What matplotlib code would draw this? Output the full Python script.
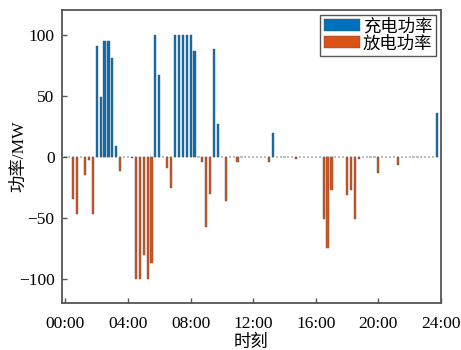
import numpy as np
import matplotlib.pyplot as plt

plt.rcParams['font.family'] = ['Liberation Serif', 'Noto Sans CJK SC']
plt.rcParams['axes.unicode_minus'] = True

# 15-min power of the storage, 96 points (MW)
charge = [0, 0, 0, 0, 0, 0, 0, 0, 90.5, 48.5, 94.5, 94.5, 81, 9, 0, 0,
          0, 0, 0, 0, 0, 0, 0, 100, 67, 0, 0, 0, 100, 100, 100, 100,
          100, 86.5, 0, 0, 0, 0, 88, 27, 0, 0, 0, 0, 0, 0, 0, 0,
          0, 0, 0, 0, 0, 19.5, 0, 0, 0, 0, 0, 0, 0, 0, 0, 0,
          0, 0, 0, 0, 0, 0, 0, 0, 0, 0, 0, 0, 0, 0, 0, 0,
          0, 0, 0, 0, 0, 0, 0, 0, 0, 0, 0, 0, 0, 0, 0, 36]
discharge = [0, 0, -34.5, -47, 0, -15, -2.5, -47, 0, 0, 0, 0, 0, 0, -11.5, 0,
             0, -1, -100, -100, -80.5, -100, -87, 0, 0, 0, -9, -25.5, 0, 0, 0, 0,
             0, 0, 0, -4.5, -58, -31, 0, 0, 0, -36, 0, 0, -4, 0, 0, 0,
             0, 0, 0, 0, -4.5, 0, 0, 0, 0, 0, 0, -2, 0, 0, 0, 0,
             0, 0, -51, -75, -27.5, 0, 0, 0, -31.5, -27, -51, -2, 0, 0, 0, 0,
             -13.5, 0, 0, 0, 0, -6.5, 0, 0, 0, 0, 0, 0, 0, 0, 0, 0]
tick_pos = [0, 16, 32, 48, 64, 80, 96]
tick_labels = ['00:00', '04:00', '08:00', '12:00', '16:00', '20:00', '24:00']

x = np.arange(len(charge))

fig = plt.figure(figsize=(4.61, 3.5), dpi=100)
ax = fig.add_axes([0.1335, 0.134, 0.823, 0.837])

ax.bar(x, charge, width=0.55, color='#0072BD', edgecolor='#555555', linewidth=0.3, label='充电功率')
ax.bar(x, discharge, width=0.55, color='#D95319', edgecolor='#555555', linewidth=0.3, label='放电功率')

ax.set_xlim(-1, 96)
ax.set_ylim(-120, 120)
ax.set_xticks(tick_pos)
ax.set_xticklabels(tick_labels)
ax.set_yticks([-100, -50, 0, 50, 100])
ax.tick_params(direction='in', labelsize=12.5, color='#555555', length=3.5, width=1)
ax.tick_params(axis='x', pad=9)
ax.tick_params(axis='y', pad=5)
for s in ax.spines.values():
    s.set_color('#555555')
    s.set_linewidth(1.3)

ax.set_xlabel('时刻', fontsize=12.5, labelpad=2)
ax.set_ylabel('功率/MW', fontsize=12.5, labelpad=-6)

leg = ax.legend(loc='upper right', fontsize=12.5, fancybox=False, edgecolor='#555555',
                handlelength=2.1, handletextpad=0.15, borderpad=0.2, labelspacing=0.05,
                borderaxespad=0.3, framealpha=1)
leg.get_frame().set_linewidth(1)

fig.savefig('out.png', dpi=100)
